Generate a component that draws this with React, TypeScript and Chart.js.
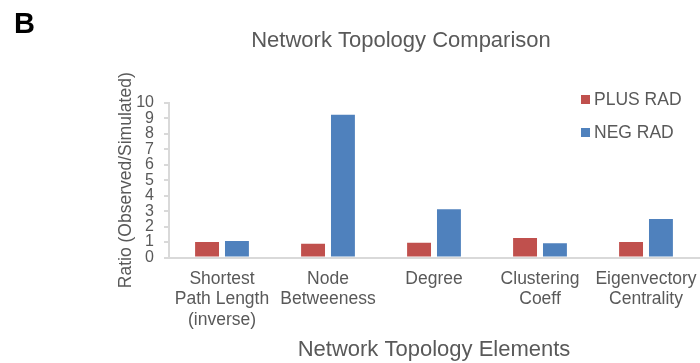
import React, { useEffect, useRef } from "react";
import { Chart, registerables } from "chart.js";

Chart.register(...registerables);

const categories: (string | string[])[] = [
  ["Shortest", "Path Length", "(inverse)"],
  ["Node", "Betweeness"],
  "Degree",
  ["Clustering", "Coeff"],
  ["Eigenvectory", "Centrality"],
];
const plusRad = [1.0, 0.89, 0.95, 1.27, 1.0];
const negRad = [1.06, 9.24, 3.13, 0.93, 2.5];
const seriesNames = ["PLUS RAD", "NEG RAD"];
const seriesColors = ["#C0504D", "#4F81BD"];
const chartTitle = "Network Topology Comparison";
const panelLetter = "B";
const xTitle = "Network Topology Elements";
const yTitle = "Ratio (Observed/Simulated)";

const FONT = "'Liberation Sans', Arial, sans-serif";
const TEXT = "#595959";

const decorPlugin = {
  id: "decor",
  afterDraw(chart: any) {
    const ctx = chart.ctx;
    ctx.save();
    // panel letter
    ctx.fillStyle = "#000";
    ctx.font = `bold 29px ${FONT}`;
    ctx.textAlign = "left";
    ctx.textBaseline = "alphabetic";
    ctx.fillText(panelLetter, 14, 33);
    // title
    ctx.fillStyle = TEXT;
    ctx.font = `22px ${FONT}`;
    ctx.textAlign = "center";
    ctx.fillText(chartTitle, 401, 47);
    // legend
    ctx.font = `17.5px ${FONT}`;
    ctx.textAlign = "left";
    ctx.textBaseline = "middle";
    chart.data.datasets.forEach((ds: any, i: number) => {
      const cy = 99.5 + i * 33;
      ctx.fillStyle = ds.backgroundColor;
      ctx.fillRect(581, cy - 4.5, 9, 9);
      ctx.fillStyle = TEXT;
      ctx.fillText(ds.label, 594, cy + 1);
    });
    ctx.restore();
  },
};

export default function App() {
  const ref = useRef<HTMLCanvasElement>(null);
  useEffect(() => {
    document.body.style.margin = "0";
    const chart = new Chart(ref.current!, {
      type: "bar",
      data: {
        labels: categories,
        datasets: [
          { label: seriesNames[0], data: plusRad, backgroundColor: seriesColors[0] },
          { label: seriesNames[1], data: negRad, backgroundColor: seriesColors[1] },
        ],
      },
      options: {
        animation: false,
        responsive: false,
        events: [],
        layout: { padding: { left: 112, right: 1, top: 103, bottom: 0 } },
        datasets: { bar: { categoryPercentage: 0.564, barPercentage: 0.8, borderWidth: 0 } },
        plugins: {
          legend: { display: false },
          title: { display: false },
          tooltip: { enabled: false },
        },
        scales: {
          x: {
            afterFit: (scale: any) => {
              scale.height = 105.5;
              scale.paddingLeft = 0;
              scale.paddingRight = 0;
            },
            grid: { display: false, drawTicks: false },
            border: { display: true, color: "#d9d9d9", width: 2 },
            ticks: {
              color: TEXT,
              font: { family: FONT, size: 17.5, lineHeight: 1.17 },
              padding: 11,
              maxRotation: 0,
              autoSkip: false,
            },
            title: {
              display: true,
              text: xTitle,
              color: TEXT,
              font: { family: FONT, size: 22, lineHeight: 1.2 },
              padding: { top: 6, bottom: 0 },
            },
          },
          y: {
            min: 0,
            max: 10,
            afterFit: (scale: any) => {
              scale.width = 57;
            },
            grid: {
              display: true,
              drawOnChartArea: false,
              drawTicks: true,
              tickLength: 5,
              color: "#d9d9d9",
              lineWidth: 2,
            },
            border: { display: true, color: "#d9d9d9", width: 2 },
            ticks: {
              stepSize: 1,
              autoSkip: false,
              color: TEXT,
              font: { family: FONT, size: 16 },
              padding: 10,
            },
            title: {
              display: true,
              text: yTitle,
              color: TEXT,
              font: { family: FONT, size: 17.5, lineHeight: 1.2 },
              padding: { top: 4, bottom: 4 },
            },
          },
        },
      },
      plugins: [decorPlugin],
    });
    return () => chart.destroy();
  }, []);
  return (
    <div style={{ position: "absolute", left: 0, top: 0, width: 700, height: 363, background: "#fff" }}>
      <canvas ref={ref} width={700} height={363} style={{ display: "block" }} />
    </div>
  );
}
